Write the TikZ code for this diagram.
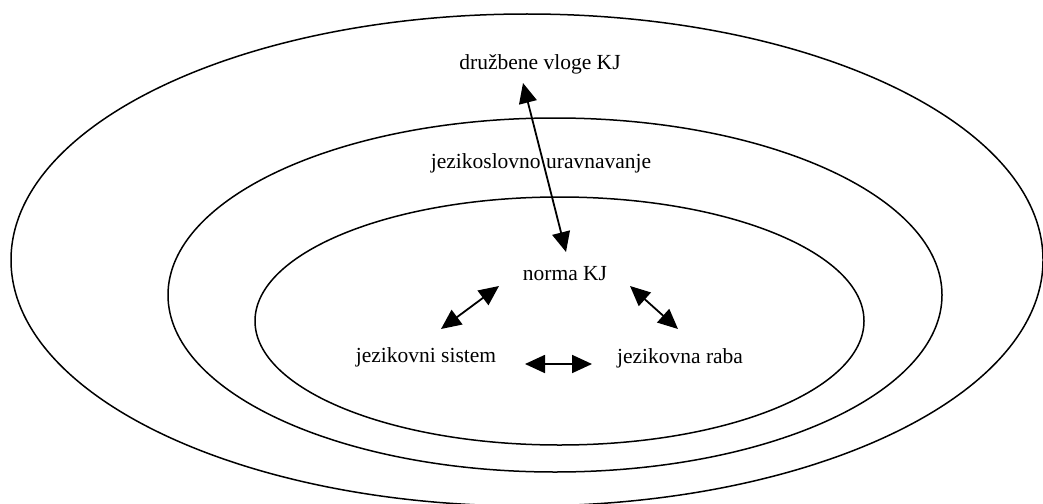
\documentclass[tikz,border=0pt]{standalone}
\usepackage{fontspec}
\setmainfont{Liberation Serif}
\usetikzlibrary{arrows.meta}
\begin{document}
\begin{tikzpicture}[x=1pt,y=-1pt,
  ring/.style={line width=1.5pt},
  lbl/.style={anchor=base,inner sep=0pt,font=\fontsize{21.5}{24}\selectfont},
  biarrow/.style={line width=1.8pt,{Triangle[length=20pt,width=18pt]}-{Triangle[length=20pt,width=18pt]}}]
\useasboundingbox (0,0) rectangle (1043,503);
\clip (0,0) rectangle (1043,503);
\fill[white] (0,0) rectangle (1043,503);
% ellipses
\draw[ring] (527,260) ellipse [x radius=516, y radius=246];
\draw[ring] (555,295) ellipse [x radius=387, y radius=177];
\draw[ring] (559.5,321) ellipse [x radius=304.5, y radius=124];
% labels
\node[lbl] (druz) at (540,70) {družbene vloge KJ};
\node[lbl] (jezu) at (541,168) {jezikoslovno uravnavanje};
\node[lbl] (norma) at (565,280) {norma KJ};
\node[lbl] (sist) at (426,362) {jezikovni sistem};
\node[lbl] (raba) at (680,363) {jezikovna raba};
% arrow endpoints
\coordinate (a1) at (523,83);
\coordinate (a2) at (566,252);
\coordinate (b1) at (441,329);
\coordinate (b2) at (499,286);
\coordinate (c1) at (630,286);
\coordinate (c2) at (678,329);
\coordinate (d1) at (525,364);
\coordinate (d2) at (592,364);
\draw[biarrow] (a1) -- (a2);
\draw[biarrow] (b1) -- (b2);
\draw[biarrow] (c1) -- (c2);
\draw[biarrow] (d1) -- (d2);
\end{tikzpicture}
\end{document}
